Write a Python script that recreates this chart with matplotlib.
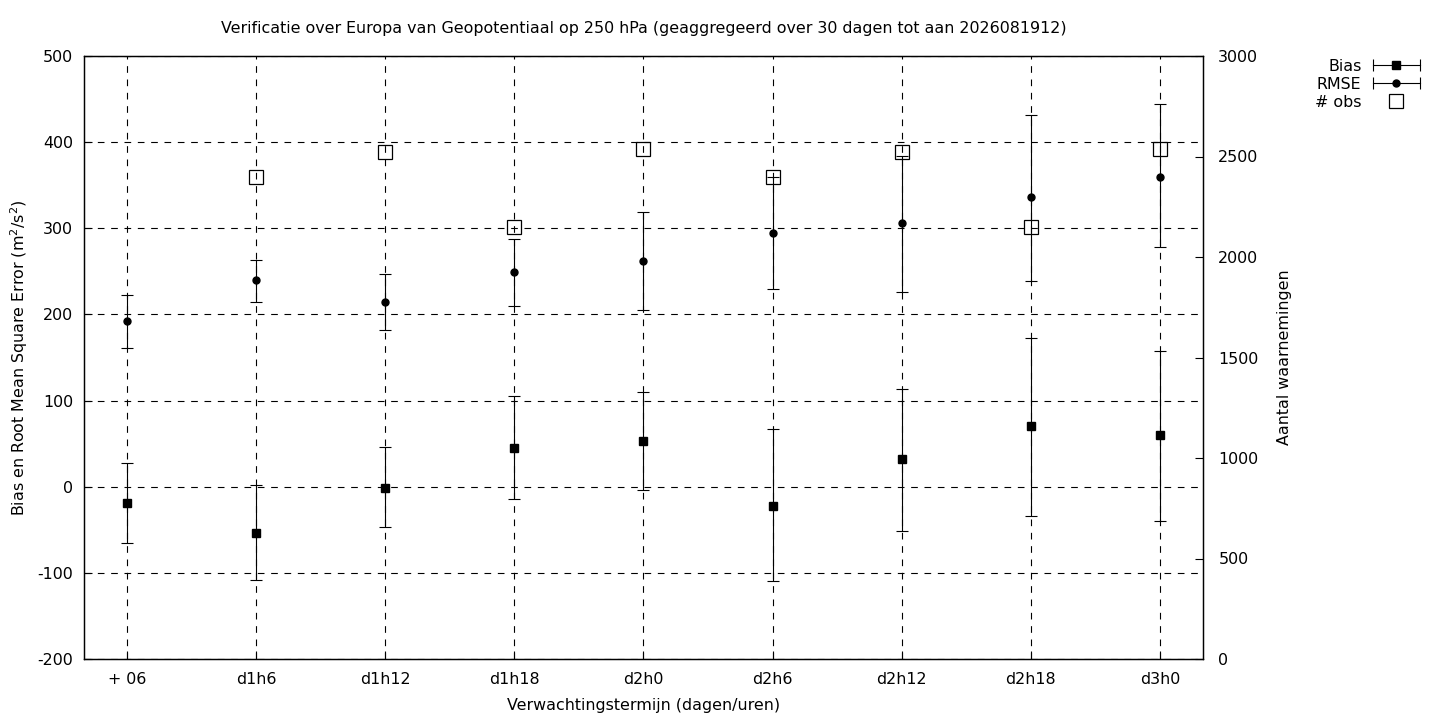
import numpy as np
import matplotlib
matplotlib.use('Agg')
import matplotlib.pyplot as plt
from matplotlib.lines import Line2D
from matplotlib.legend_handler import HandlerLine2D, HandlerTuple

plt.rcParams.update({
    'font.family': 'DejaVu Sans',
    'font.size': 11.4,
    'mathtext.fontset': 'dejavusans',
    'axes.unicode_minus': False,
})

# data
termijnen = ['+ 06', 'd1h6', 'd1h12', 'd1h18', 'd2h0', 'd2h6', 'd2h12', 'd2h18', 'd3h0']
bias = np.array([-19, -54, -1, 45, 53, -22, 32, 70, 60])
bias_lo = np.array([-65, -108, -47, -14, -4, -110, -51, -34, -40])
bias_hi = np.array([28, 2, 46, 105, 110, 67, 114, 173, 158])
rmse = np.array([192, 240, 214, 249, 262, 295, 306, 336, 360])
rmse_lo = np.array([161, 215, 182, 210, 205, 229, 226, 239, 278])
rmse_hi = np.array([222, 263, 247, 287, 319, 360, 384, 431, 444])
n_obs = np.array([np.nan, 2396, 2521, 2151, 2536, 2396, 2521, 2151, 2536])

titel = ('Verificatie over Europa van Geopotentiaal op 250 hPa '
         '(geaggregeerd over 30 dagen tot aan 2026081912)')

x = np.arange(len(termijnen))

fig = plt.figure(figsize=(14.4, 7.2), dpi=100)
ax = fig.add_axes([84/1440, 1 - 659/720, (1203-84)/1440, (659-56)/720])
ax2 = ax.twinx()

grid_kw = dict(color='black', linewidth=0.8, linestyle=(0, (6, 6)))
ax.grid(True, axis='both', **grid_kw)
ax.set_axisbelow(True)

eb_kw = dict(color='black', elinewidth=0.8, capsize=4, capthick=0.8, linestyle='none')
ax.errorbar(x, bias, yerr=[bias - bias_lo, bias_hi - bias], fmt='s', ms=5.8, **eb_kw)
ax.errorbar(x, rmse, yerr=[rmse - rmse_lo, rmse_hi - rmse], fmt='o', ms=5, **eb_kw)
ax2.plot(x, n_obs, linestyle='none', marker='s', ms=10, mfc='none', mec='black', mew=0.9)

ax.set_xlim(-1/3, 8 + 1/3)
ax.set_ylim(-200, 500)
ax.set_yticks(np.arange(-200, 501, 100))
ax.set_xticks(x)
ax.set_xticklabels(termijnen)
ax2.set_ylim(0, 3000)
ax2.set_yticks(np.arange(0, 3001, 500))

ax.tick_params(axis='both', direction='in', length=6, width=0.8)
ax.tick_params(axis='y', pad=8)
ax.tick_params(axis='x', pad=9)
ax2.tick_params(axis='y', direction='in', length=6, width=0.8, pad=11)
for a in (ax, ax2):
    for s in a.spines.values():
        s.set_linewidth(0.9)

ax.set_xlabel('Verwachtingstermijn (dagen/uren)', labelpad=8)
ax.set_ylabel('Bias en Root Mean Square Error (m$^2$/s$^2$)', labelpad=5)
ax2.set_ylabel('Aantal waarnemingen', labelpad=13)
fig.text((84 + 1203) / 2 / 1440, 1 - 29/720, titel, ha='center', va='center')

# legend in gnuplot style: label first, then sample line with caps
bias_line = Line2D([], [], color='black', lw=0.8, marker='s', ms=5.8)
bias_caps = Line2D([], [], color='black', ls='none', marker='|', ms=8, mew=0.8)
rmse_line = Line2D([], [], color='black', lw=0.8, marker='o', ms=5)
rmse_caps = Line2D([], [], color='black', ls='none', marker='|', ms=8, mew=0.8)
obs_mark = Line2D([], [], color='black', ls='none', marker='s', ms=10, mfc='none', mew=0.9)
fig.legend([(bias_line, bias_caps), (rmse_line, rmse_caps), obs_mark],
           ['Bias', 'RMSE', '# obs'],
           handler_map={bias_caps: HandlerLine2D(numpoints=2, marker_pad=0),
                        rmse_caps: HandlerLine2D(numpoints=2, marker_pad=0),
                        tuple: HandlerTuple(ndivide=1)},
           loc='upper right', bbox_to_anchor=(1428/1440, 1 - 51/720),
           frameon=False, markerfirst=False, handlelength=3.0,
           labelspacing=0.19, handletextpad=0.7, borderpad=0, numpoints=1)

fig.savefig('out.png', dpi=100)
